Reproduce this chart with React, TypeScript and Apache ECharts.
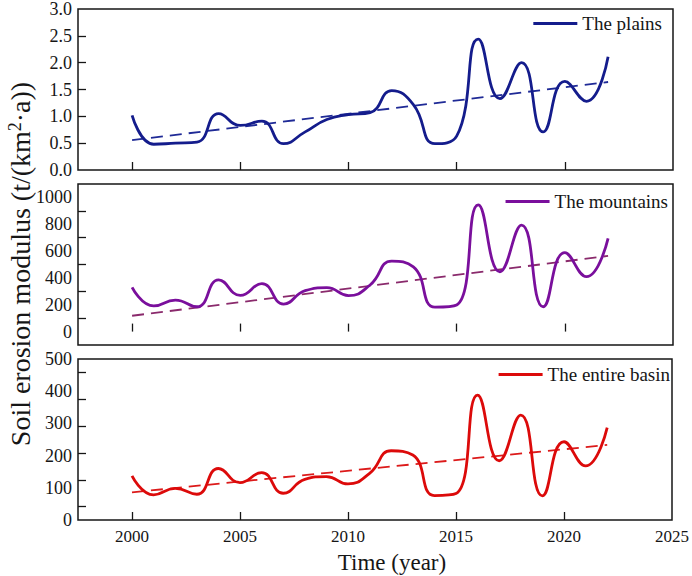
import React, { useEffect, useRef } from 'react';
import * as echarts from 'echarts';

const years = [2000, 2001, 2002, 2003, 2004, 2005, 2006, 2007, 2008, 2009, 2010, 2011, 2012, 2013, 2014, 2015, 2016, 2017, 2018, 2019, 2020, 2021, 2022];
const plains = [1.02, 0.48, 0.5, 0.52, 1.05, 0.83, 0.91, 0.49, 0.71, 0.94, 1.03, 1.07, 1.48, 1.22, 0.49, 0.63, 2.44, 1.33, 2.0, 0.71, 1.65, 1.28, 2.11];
const mountains = [330, 191, 235, 185, 385, 270, 357, 205, 305, 327, 268, 347, 525, 483, 182, 198, 944, 446, 794, 185, 588, 409, 695];
const basin = [137, 78, 98, 80, 160, 116, 147, 83, 126, 135, 112, 145, 215, 202, 76, 82, 388, 184, 326, 75, 243, 168, 287];

const trendYears = [2000, 2022];
const plainsTrend = [0.556, 1.64];
const mountainsTrend = [118, 564];
const basinTrend = [86, 233];

const names = ['The plains', 'The mountains', 'The entire basin'];

const xLabelValues = [2000, 2005, 2010, 2015, 2020, 2025];
const xTickValues = [2000, 2005, 2010, 2015, 2020];

const plainsLabels = [0, 0.5, 1.0, 1.5, 2.0, 2.5, 3.0];
const plainsTickMarks = [0.5, 1.0, 1.5, 2.0, 2.5];
const mountainsLabels = [0, 200, 400, 600, 800, 1000];
const mountainsTickMarks = [100, 300, 500, 700, 900];
const basinLabels = [0, 100, 200, 300, 400, 500];
const basinTickMarks = [41.67, 125, 208.33, 291.67, 375, 458.33];

const SERIF = 'Liberation Serif';
const INK = '#161616';

export default function App() {
  const ref = useRef<HTMLDivElement>(null);

  useEffect(() => {
    document.body.style.margin = '0';
    if (!ref.current) return;
    const chart = echarts.init(ref.current, undefined, { renderer: 'svg' });

    const gridDefs = [
      { top: 8, height: 162 },
      { top: 184, height: 161 },
      { top: 359, height: 161 },
    ];
    const grid = gridDefs.map((g) => ({
      left: 78,
      right: 19,
      top: g.top,
      height: g.height,
      show: true,
      borderColor: INK,
      borderWidth: 1.5,
      backgroundColor: 'transparent',
    }));

    const xAxis = [0, 1, 2].map((i) => ({
      type: 'value',
      gridIndex: i,
      min: 1997.5,
      max: 2025,
      axisLine: { show: false },
      splitLine: { show: false },
      axisTick: {
        show: true,
        inside: true,
        length: 8,
        customValues: xTickValues,
        lineStyle: { color: INK, width: 1.3 },
      },
      axisLabel: {
        show: i === 2,
        customValues: xLabelValues,
        fontFamily: SERIF,
        fontSize: 17,
        color: INK,
        margin: 8,
        formatter: (v: number) => '{s|' + String(v) + '}',
        rich: { s: { fontFamily: SERIF, fontSize: 17, color: INK } },
      },
    }));

    const yDefs = [
      { min: 0, max: 3, labels: plainsLabels, ticks: plainsTickMarks, fmt: (v: number) => v.toFixed(1) },
      { min: -100, max: 1100, labels: mountainsLabels, ticks: mountainsTickMarks, fmt: (v: number) => String(Math.round(v)) },
      { min: 0, max: 500, labels: basinLabels, ticks: basinTickMarks, fmt: (v: number) => String(Math.round(v)) },
    ];
    const yAxis = yDefs.map((d, i) => ({
      type: 'value',
      gridIndex: i,
      min: d.min,
      max: d.max,
      axisLine: { show: false },
      splitLine: { show: false },
      axisTick: {
        show: true,
        inside: true,
        length: 8,
        customValues: d.ticks,
        lineStyle: { color: INK, width: 1.3 },
      },
      axisLabel: {
        customValues: d.labels,
        formatter: (v: number) => '{s|' + d.fmt(v) + '}',
        rich: { s: { fontFamily: SERIF, fontSize: 18, color: INK } },
        fontFamily: SERIF,
        fontSize: 18,
        color: INK,
        margin: 6,
      },
    }));

    const colors = ['#141c8c', '#7a0f9c', '#dc0a0a'];
    const trendColors = ['#1f2a96', '#8a2a6c', '#dc1a1a'];
    const values = [plains, mountains, basin];
    const trends = [plainsTrend, mountainsTrend, basinTrend];

    const series: any[] = [];
    values.forEach((vals, i) => {
      series.push({
        name: names[i],
        type: 'line',
        xAxisIndex: i,
        yAxisIndex: i,
        data: years.map((y, k) => [y, vals[k]]),
        smooth: 0.5,
        symbol: 'none',
        lineStyle: { color: colors[i], width: 2.8 },
        itemStyle: { color: colors[i] },
        z: 3,
      });
      series.push({
        name: names[i] + ' trend',
        type: 'line',
        xAxisIndex: i,
        yAxisIndex: i,
        data: trendYears.map((y, k) => [y, trends[i][k]]),
        symbol: 'none',
        silent: true,
        lineStyle: { color: trendColors[i], width: 1.8, type: [12, 7] },
        itemStyle: { color: trendColors[i] },
        z: 2,
      });
    });

    const legendDefs = [
      { right: 30, top: 14 },
      { right: 24, top: 192 },
      { right: 22, top: 365 },
    ];
    const legend = legendDefs.map((l, i) => ({
      data: [names[i]],
      right: l.right,
      top: l.top,
      padding: 0,
      icon: 'rect',
      itemWidth: 44,
      itemHeight: 3,
      itemGap: 0,
      textStyle: { fontFamily: SERIF, fontSize: 19, color: INK },
      selectedMode: false,
    }));

    chart.setOption({
      animation: false,
      backgroundColor: '#ffffff',
      textStyle: { fontFamily: SERIF },
      grid,
      xAxis,
      yAxis,
      series,
      legend,
      graphic: [
        {
          type: 'text',
          x: 20,
          y: 264,
          rotation: Math.PI / 2,
          style: {
            text: 'Soil erosion modulus (t/(km{sup|2}·a))',
            fontFamily: SERIF,
            fontSize: 28,
            fill: INK,
            align: 'center',
            verticalAlign: 'middle',
            rich: {
              sup: { fontFamily: SERIF, fontSize: 18, fill: INK, verticalAlign: 'top', padding: [0, 0, 10, 0] },
            },
          },
        },
        {
          type: 'text',
          x: 392,
          y: 562,
          style: {
            text: 'Time (year)',
            fontFamily: SERIF,
            fontSize: 23,
            fill: INK,
            align: 'center',
            verticalAlign: 'middle',
          },
        },
      ],
    });

    return () => {
      chart.dispose();
    };
  }, []);

  return <div ref={ref} style={{ width: 692, height: 576 }} />;
}
